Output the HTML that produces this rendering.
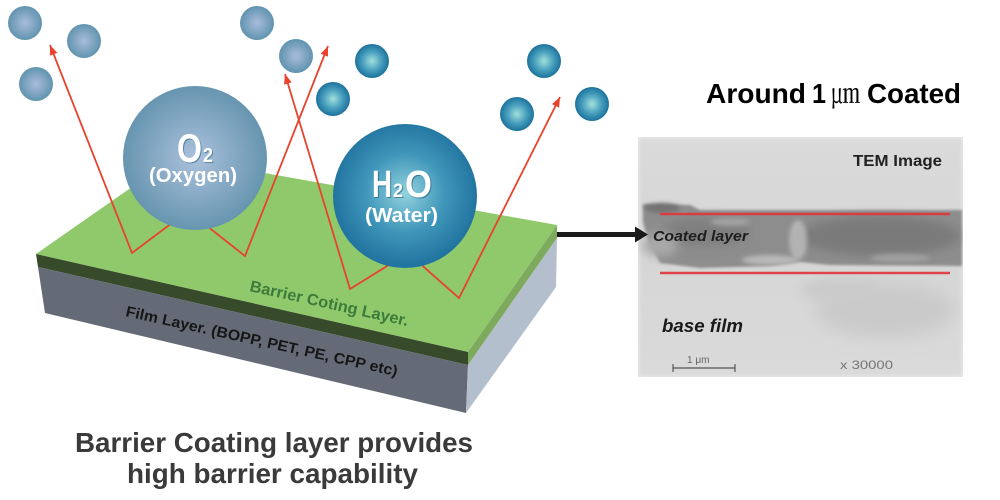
<!DOCTYPE html>
<html>
<head>
<meta charset="utf-8">
<style>
html,body{margin:0;padding:0;background:#ffffff;width:1000px;height:500px;overflow:hidden}
svg{display:block}
</style>
</head>
<body>
<svg width="1000" height="500" viewBox="0 0 1000 500" xmlns="http://www.w3.org/2000/svg">
<defs>
  <radialGradient id="o2s" cx="50%" cy="50%" r="50%">
    <stop offset="0" stop-color="#a9bcdc"/>
    <stop offset="1" stop-color="#6194af"/>
  </radialGradient>
  <radialGradient id="h2s" cx="50%" cy="50%" r="50%">
    <stop offset="0" stop-color="#a2e0dc"/>
    <stop offset="0.55" stop-color="#4aa0bf"/>
    <stop offset="1" stop-color="#1c729b"/>
  </radialGradient>
  <radialGradient id="o2b" cx="50%" cy="50%" r="50%">
    <stop offset="0" stop-color="#abc1dc"/>
    <stop offset="1" stop-color="#6795b0"/>
  </radialGradient>
  <radialGradient id="h2b" cx="50%" cy="48%" r="50%">
    <stop offset="0" stop-color="#93d3dd"/>
    <stop offset="0.55" stop-color="#3f96ba"/>
    <stop offset="1" stop-color="#2275a0"/>
  </radialGradient>
  <linearGradient id="tembg" x1="0" y1="0" x2="0" y2="1">
    <stop offset="0" stop-color="#dadada"/>
    <stop offset="0.5" stop-color="#d6d6d6"/>
    <stop offset="1" stop-color="#dadada"/>
  </linearGradient>
  <marker id="ah" viewBox="0 0 10 8" refX="10" refY="4" markerWidth="10" markerHeight="8" markerUnits="userSpaceOnUse" orient="auto-start-reverse">
    <path d="M0,0 L10,4 L0,8 z" fill="#e8432d"/>
  </marker>
  <filter id="b1" x="-20%" y="-50%" width="140%" height="200%"><feGaussianBlur stdDeviation="1.2"/></filter>
  <filter id="b2" x="-20%" y="-50%" width="140%" height="200%"><feGaussianBlur stdDeviation="2"/></filter>
  <filter id="b5" x="-50%" y="-50%" width="200%" height="200%"><feGaussianBlur stdDeviation="5"/></filter>
  <filter id="b8" x="-50%" y="-50%" width="200%" height="200%"><feGaussianBlur stdDeviation="8"/></filter>
  <clipPath id="temclip"><rect x="638" y="137" width="325" height="240"/></clipPath>
</defs>

<!-- Slab -->
<polygon points="36,254 175,157 557,225 468,352" fill="#8fc96c"/>
<polygon points="36,254 468,352 468,365 38,267" fill="#374b2b"/>
<polygon points="38,267 468,365 466,413 45,313" fill="#646b76"/>
<polygon points="468,352 557,225 557,238 468,365" fill="#7eaa5e"/>
<polygon points="468,365 557,238 556,287 466,413" fill="#b4bfcd"/>

<!-- Slab labels -->
<text transform="translate(249,291) rotate(12.5)" font-family="Liberation Sans, sans-serif" font-size="16" font-weight="bold" fill="#3d7b3b" textLength="162" lengthAdjust="spacingAndGlyphs">Barrier Coting Layer.</text>
<text transform="translate(125,316) rotate(12.5)" font-family="Liberation Sans, sans-serif" font-size="15" font-weight="bold" fill="#161616" textLength="278" lengthAdjust="spacingAndGlyphs">Film Layer. (BOPP, PET, PE, CPP etc)</text>

<!-- Red arrows -->
<path d="M50,45 L132,253 L188,211 L245,256 L328,46" fill="none" stroke="#e8432d" stroke-width="1.8" stroke-linejoin="miter" marker-start="url(#ah)" marker-end="url(#ah)"/>
<path d="M285,74 L350,289 L408,253 L459,298 L560,97" fill="none" stroke="#e8432d" stroke-width="1.8" stroke-linejoin="miter" marker-start="url(#ah)" marker-end="url(#ah)"/>

<!-- small O2 molecules -->
<circle cx="25" cy="23" r="17" fill="url(#o2s)"/>
<circle cx="84" cy="41" r="17" fill="url(#o2s)"/>
<circle cx="36" cy="84" r="17" fill="url(#o2s)"/>
<circle cx="257" cy="23" r="17" fill="url(#o2s)"/>
<circle cx="296" cy="56" r="17" fill="url(#o2s)"/>
<!-- small H2O molecules -->
<circle cx="372" cy="61" r="17" fill="url(#h2s)"/>
<circle cx="333" cy="99" r="17" fill="url(#h2s)"/>
<circle cx="544" cy="61" r="17" fill="url(#h2s)"/>
<circle cx="517" cy="114" r="17" fill="url(#h2s)"/>
<circle cx="592" cy="104" r="17" fill="url(#h2s)"/>

<!-- Big O2 -->
<circle cx="195" cy="158" r="72" fill="url(#o2b)"/>
<g font-family="Liberation Sans, sans-serif" font-weight="bold">
  <text x="178" y="163" font-size="40" fill="#2f6580" opacity="0.6" textLength="25" lengthAdjust="spacingAndGlyphs">O</text>
  <text x="177" y="162" font-size="40" fill="#ffffff" textLength="25" lengthAdjust="spacingAndGlyphs">O</text>
  <text x="204" y="163" font-size="20" fill="#2f6580" opacity="0.6" textLength="10" lengthAdjust="spacingAndGlyphs">2</text>
  <text x="203" y="162" font-size="20" fill="#ffffff" textLength="10" lengthAdjust="spacingAndGlyphs">2</text>
  <text x="149" y="182" font-size="20" fill="#ffffff" textLength="88" lengthAdjust="spacingAndGlyphs">(Oxygen)</text>
</g>

<!-- Big H2O -->
<circle cx="405" cy="196" r="72" fill="url(#h2b)"/>
<g font-family="Liberation Sans, sans-serif" font-weight="bold">
  <text x="373" y="198" font-size="38" fill="#1b5675" opacity="0.6" textLength="20" lengthAdjust="spacingAndGlyphs">H</text>
  <text x="372" y="197" font-size="38" fill="#ffffff" textLength="20" lengthAdjust="spacingAndGlyphs">H</text>
  <text x="394" y="198" font-size="19" fill="#1b5675" opacity="0.6" textLength="10" lengthAdjust="spacingAndGlyphs">2</text>
  <text x="393" y="197" font-size="19" fill="#ffffff" textLength="10" lengthAdjust="spacingAndGlyphs">2</text>
  <text x="406" y="198" font-size="38" fill="#1b5675" opacity="0.6" textLength="27" lengthAdjust="spacingAndGlyphs">O</text>
  <text x="405" y="197" font-size="38" fill="#ffffff" textLength="27" lengthAdjust="spacingAndGlyphs">O</text>
  <text x="365" y="222" font-size="20" fill="#ffffff" textLength="73" lengthAdjust="spacingAndGlyphs">(Water)</text>
</g>

<!-- Bottom caption -->
<g font-family="Liberation Sans, sans-serif" font-weight="bold" font-size="28" fill="#3a3a3a">
  <text x="75" y="452" textLength="398" lengthAdjust="spacingAndGlyphs">Barrier Coating layer provides</text>
  <text x="127" y="483" textLength="291" lengthAdjust="spacingAndGlyphs">high barrier capability</text>
</g>

<!-- Title right -->
<g font-weight="bold" fill="#000000">
  <text x="706" y="103" font-family="Liberation Sans, sans-serif" font-size="27.5" textLength="100" lengthAdjust="spacingAndGlyphs">Around</text>
  <text x="812" y="103" font-family="Liberation Sans, sans-serif" font-size="27.5" textLength="14" lengthAdjust="spacingAndGlyphs">1</text>
  <text x="831" y="103" font-family="Liberation Serif, 'Noto Serif CJK SC', 'Noto Sans CJK JP', serif" font-weight="normal" font-size="27" textLength="29" lengthAdjust="spacingAndGlyphs">㎛</text>
  <text x="867" y="103" font-family="Liberation Sans, sans-serif" font-size="27.5" textLength="94" lengthAdjust="spacingAndGlyphs">Coated</text>
</g>

<!-- TEM image -->
<g clip-path="url(#temclip)">
  <rect x="638" y="137" width="325" height="240" fill="url(#tembg)"/>
  <rect x="636" y="135" width="329" height="244" fill="none" stroke="#ececec" stroke-width="5" filter="url(#b2)"/>
  <!-- faint smudges -->
  <ellipse cx="885" cy="310" rx="70" ry="28" fill="#cacaca" filter="url(#b8)"/>
  <ellipse cx="840" cy="290" rx="40" ry="12" fill="#cbcbcb" filter="url(#b5)"/>
  <!-- band -->
  <polygon points="643,204 690,205 700,210 962,210 962,266 830,265 800,262 770,266 700,268 660,263 648,240 643,222" fill="#8d8d8d" filter="url(#b1)"/>
  <ellipse cx="880" cy="236" rx="80" ry="20" fill="#7a7a7a" filter="url(#b5)"/>
  <ellipse cx="705" cy="232" rx="45" ry="14" fill="#7f7f7f" filter="url(#b5)"/>
  <ellipse cx="660" cy="245" rx="18" ry="12" fill="#a9a9a9" filter="url(#b5)"/>
  <ellipse cx="798" cy="240" rx="9" ry="20" fill="#bdbdbd" opacity="0.8" filter="url(#b2)"/>
  <ellipse cx="770" cy="260" rx="28" ry="5" fill="#b8b8b8" filter="url(#b2)"/>
  <ellipse cx="730" cy="222" rx="20" ry="4" fill="#a2a2a2" filter="url(#b2)"/>
  <ellipse cx="900" cy="258" rx="30" ry="4" fill="#a0a0a0" filter="url(#b2)"/>
  <line x1="660" y1="254" x2="935" y2="254" stroke="#a9b0b6" stroke-width="2.5" filter="url(#b1)"/>
  <ellipse cx="662" cy="208" rx="18" ry="5" fill="#727272" filter="url(#b2)"/>
  <!-- red lines -->
  <line x1="660" y1="214" x2="950" y2="214" stroke="#e0353b" stroke-width="2.5" opacity="0.9"/>
  <line x1="660" y1="273" x2="950" y2="273" stroke="#e0353b" stroke-width="2.5" opacity="0.9"/>
  <!-- labels -->
  <text x="853" y="166" font-family="Liberation Sans, sans-serif" font-weight="bold" font-size="16" fill="#222222" textLength="89" lengthAdjust="spacingAndGlyphs">TEM Image</text>
  <text x="653" y="241" font-family="Liberation Sans, sans-serif" font-weight="bold" font-style="italic" font-size="15" fill="#1e1e1e" textLength="95" lengthAdjust="spacingAndGlyphs">Coated layer</text>
  <text x="662" y="332" font-family="Liberation Sans, sans-serif" font-weight="bold" font-style="italic" font-size="18" fill="#1a1a1a" textLength="81" lengthAdjust="spacingAndGlyphs">base film</text>
  <line x1="673" y1="368" x2="735" y2="368" stroke="#555555" stroke-width="1.2"/>
  <line x1="673" y1="364" x2="673" y2="372" stroke="#555555" stroke-width="1.2"/>
  <line x1="735" y1="364" x2="735" y2="372" stroke="#555555" stroke-width="1.2"/>
  <text x="687" y="363" font-family="Liberation Sans, sans-serif" font-size="10" fill="#666666">1 μm</text>
  <text x="840" y="369" font-family="Liberation Sans, sans-serif" font-size="12" fill="#777777" textLength="53" lengthAdjust="spacingAndGlyphs">x 30000</text>
</g>

<!-- Black arrow -->
<line x1="557" y1="234.5" x2="637" y2="234.5" stroke="#1a1a1a" stroke-width="5"/>
<polygon points="635,226.5 648,234.5 635,242.5" fill="#1a1a1a"/>
</svg>
</body>
</html>
